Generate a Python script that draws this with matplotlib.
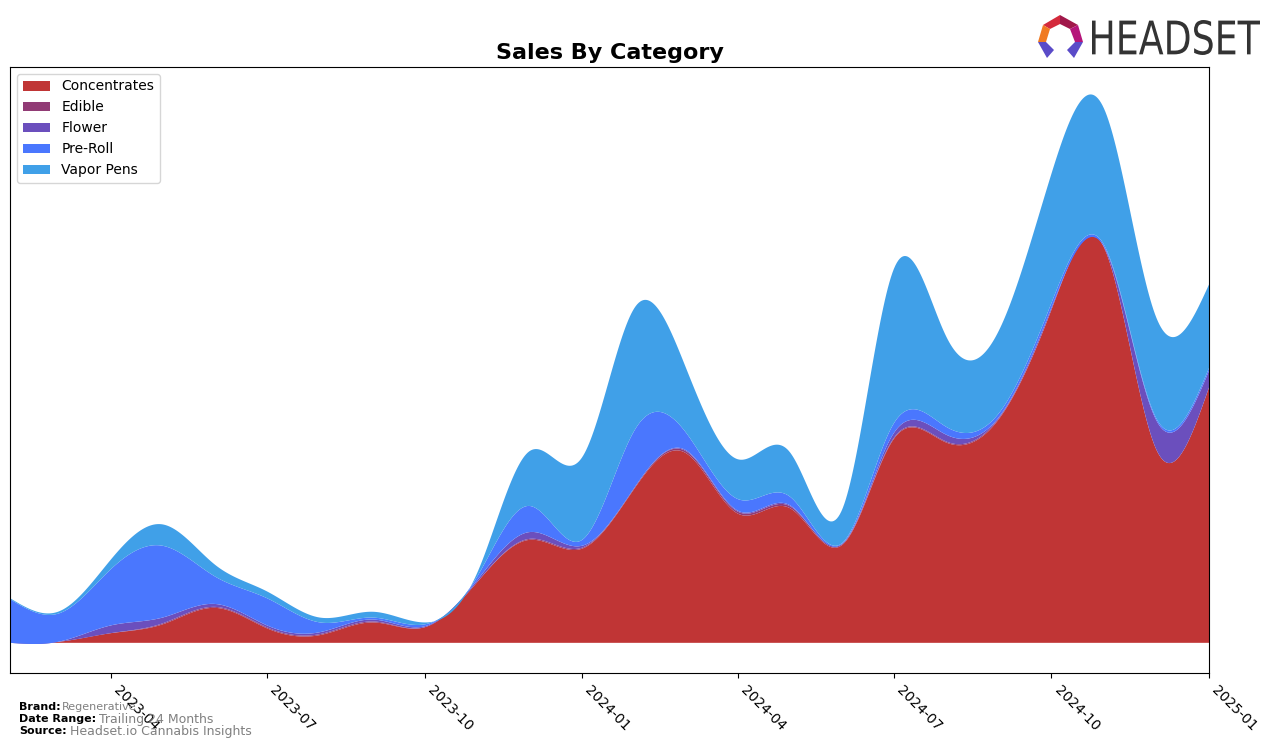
import numpy as np
import matplotlib
matplotlib.use("Agg")
import matplotlib.pyplot as plt
import matplotlib.dates as mdates
from matplotlib.textpath import TextPath
from matplotlib.patches import PathPatch, Polygon
from matplotlib.transforms import Affine2D
from matplotlib.font_manager import FontProperties

# monthly sales by category (relative units)
months = [
    "2023-02", "2023-03", "2023-04", "2023-05", "2023-06", "2023-07",
    "2023-08", "2023-09", "2023-10", "2023-11", "2023-12", "2024-01",
    "2024-02", "2024-03", "2024-04", "2024-05", "2024-06", "2024-07",
    "2024-08", "2024-09", "2024-10", "2024-11", "2024-12", "2025-01",
]
categories = ["Concentrates", "Edible", "Flower", "Pre-Roll", "Vapor Pens"]
concentrates = [0, 1, 10, 19, 36, 15, 8, 21, 16, 63, 106, 97,
                160, 196, 133, 139, 101, 210, 206, 232, 343, 406, 200, 263]
edible = [0, 0, 0, 1, 1, 1, 1, 1, 0, 0, 1, 1,
          1, 2, 2, 2, 1, 1, 1, 1, 0, 0, 0, 0]
flower = [0, 0, 8, 6, 3, 2, 2, 2, 1, 2, 7, 2,
          0, 1, 1, 1, 0, 5, 7, 1, 2, 1, 30, 17]
pre_roll = [45, 29, 58, 74, 28, 28, 10, 2, 2, 4, 27, 6,
            59, 19, 12, 9, 1, 10, 8, 4, 5, 2, 2, 3]
vapor_pens = [1, 2, 10, 22, 12, 7, 5, 6, 2, 4, 56, 85,
              126, 68, 41, 46, 35, 159, 92, 86, 133, 140, 104, 86]
colors = ["#c03535", "#913b75", "#6b4fbd", "#4a77fe", "#40a0e8"]


def natural_spline(x, y, xs):
    """Natural cubic spline through (x, y), evaluated at xs"""
    x = np.asarray(x, float)
    y = np.asarray(y, float)
    n = len(x)
    h = np.diff(x)
    A = np.zeros((n, n))
    b = np.zeros(n)
    A[0, 0] = A[-1, -1] = 1.0
    for i in range(1, n - 1):
        A[i, i - 1] = h[i - 1]
        A[i, i] = 2 * (h[i - 1] + h[i])
        A[i, i + 1] = h[i]
        b[i] = 6 * ((y[i + 1] - y[i]) / h[i] - (y[i] - y[i - 1]) / h[i - 1])
    M = np.linalg.solve(A, b)
    idx = np.clip(np.searchsorted(x, xs) - 1, 0, n - 2)
    x0, x1 = x[idx], x[idx + 1]
    hh = x1 - x0
    t0, t1 = x1 - xs, xs - x0
    return (M[idx] * t0 ** 3 / (6 * hh) + M[idx + 1] * t1 ** 3 / (6 * hh)
            + (y[idx] / hh - M[idx] * hh / 6) * t0
            + (y[idx + 1] / hh - M[idx + 1] * hh / 6) * t1)


x = mdates.datestr2num([m + "-01" for m in months])
xs = np.linspace(x[0], x[-1], 800)
series = [concentrates, edible, flower, pre_roll, vapor_pens]
smoothed = [natural_spline(x, s, xs) for s in series]

fig = plt.figure(figsize=(12.76, 7.47), dpi=100)
ax = fig.add_axes([10 / 1276, 1 - 673 / 747, 1199 / 1276, 606 / 747])

ax.stackplot(xs, *smoothed, labels=categories, colors=colors, linewidth=0)

total_max = np.max(np.sum(smoothed, axis=0))
ax.set_ylim(-0.055 * total_max, 1.05 * total_max)
ax.set_xlim(x[0], x[-1])
ax.set_yticks([])

tick_dates = ["2023-04", "2023-07", "2023-10", "2024-01",
              "2024-04", "2024-07", "2024-10", "2025-01"]
ax.set_xticks(mdates.datestr2num([d + "-01" for d in tick_dates]))
ax.set_xticklabels(tick_dates, rotation=-45, ha="left", fontsize=10)

ax.set_title("Sales By Category", fontsize=16, fontweight="bold", pad=6)
ax.legend(loc="upper left", fontsize=10)

# footer
fig.text(19 / 1276, 1 - 707 / 747, "Brand:", fontsize=8, fontweight="bold", va="center")
fig.text(62 / 1276, 1 - 707 / 747, "Regenerative", fontsize=8, color="gray", va="center")
fig.text(19 / 1276, 1 - 719 / 747, "Date Range:", fontsize=8, fontweight="bold", va="center")
fig.text(99 / 1276, 1 - 719 / 747, "Trailing 24 Months", fontsize=9, color="gray", va="center")
fig.text(19 / 1276, 1 - 731 / 747, "Source:", fontsize=8, fontweight="bold", va="center")
fig.text(70 / 1276, 1 - 731 / 747, "Headset.io Cannabis Insights", fontsize=9, color="gray",
         va="center")

# logo
logo = fig.add_axes([1030 / 1276, 1 - 65 / 747, 246 / 1276, 65 / 747])
logo.set_xlim(1030, 1276)
logo.set_ylim(65, 0)
logo.axis("off")
tp = TextPath((0, 0), "HEADSET", size=40, prop=FontProperties(family="DejaVu Sans"))
bb = tp.get_extents()
sx = (1260 - 1092) / bb.width
sy = (55 - 20) / bb.height
tr = Affine2D().translate(-bb.x0, -bb.y0).scale(sx, -sy).translate(1092, 55)
logo.add_patch(PathPatch(tr.transform_path(tp), color="#333333", lw=0))
icon = [
    ([(1043, 25), (1060, 15), (1060, 24), (1050, 29)], "#d42a3c"),
    ([(1060, 15), (1078, 25), (1070, 29), (1060, 24)], "#a0184a"),
    ([(1078, 25), (1083, 42), (1075, 42), (1070, 29)], "#b5157a"),
    ([(1043, 25), (1050, 29), (1046, 42), (1038, 42)], "#f07a22"),
    ([(1038, 42), (1046, 42), (1054, 50), (1047, 58)], "#5a4bc8"),
    ([(1083, 42), (1075, 42), (1067, 50), (1074, 58)], "#5a4bc8"),
]
for pts, c in icon:
    logo.add_patch(Polygon(pts, closed=True, color=c, lw=0))

fig.savefig("out.png", dpi=100)
